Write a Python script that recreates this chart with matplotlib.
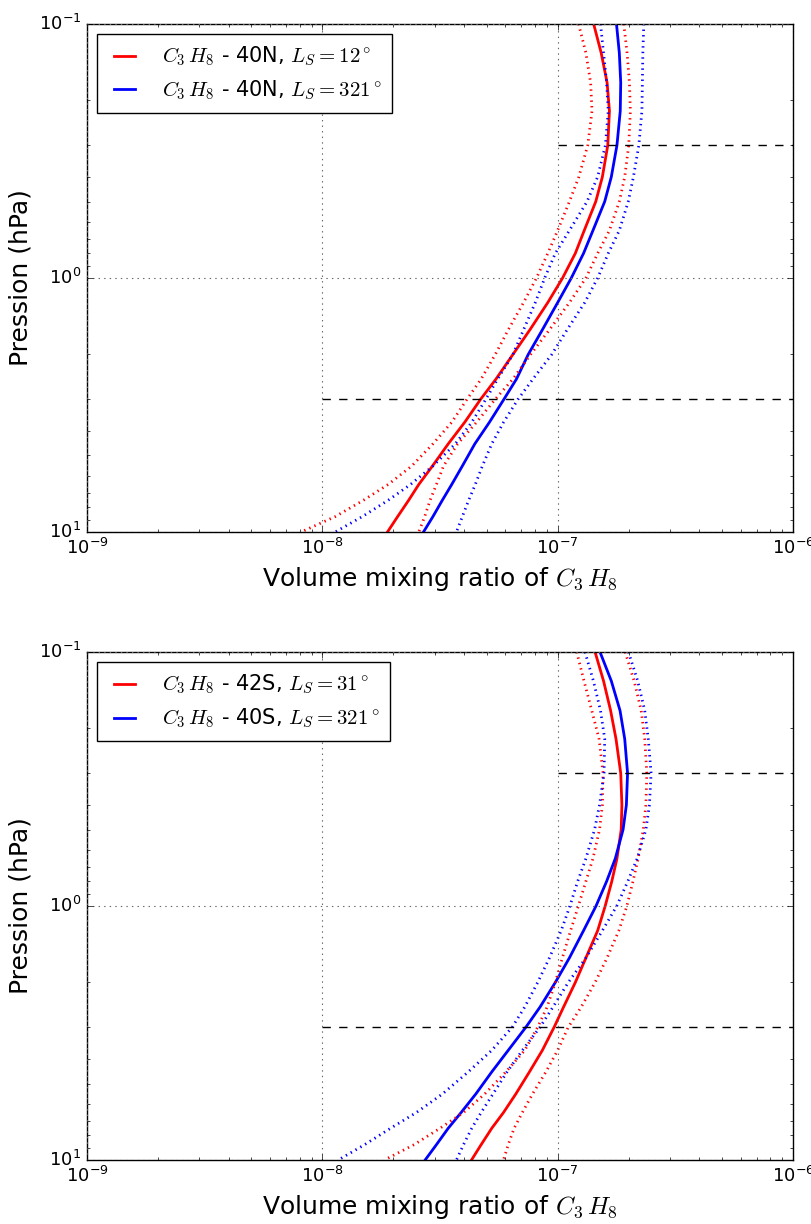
import numpy as np
import matplotlib
matplotlib.use('Agg')
import matplotlib.pyplot as plt

plt.style.use('classic')
plt.rcParams['mathtext.fontset'] = 'cm'
plt.rcParams['font.family'] = 'DejaVu Sans'

# pressure levels (hPa)
p = [0.1, 0.13, 0.17, 0.22, 0.3, 0.4, 0.5, 0.65, 0.8, 1.0, 1.25, 1.6,
     2.0, 2.5, 3.0, 3.7, 4.5, 5.5, 6.5, 7.5, 8.7, 10.0]

# log10 of the volume mixing ratio
# top panel: 40N
n_red = [-6.847, -6.815, -6.790, -6.780, -6.787, -6.810, -6.838, -6.887, -6.925, -6.979, -7.042,
         -7.118, -7.19, -7.262, -7.327, -7.395, -7.465, -7.532, -7.59, -7.633, -7.68, -7.723]
n_red_lo = [-6.911, -6.88, -6.86, -6.854, -6.872, -6.91, -6.95, -7.0, -7.042, -7.09, -7.145,
            -7.21, -7.265, -7.325, -7.385, -7.45, -7.53, -7.62, -7.72, -7.825, -7.945, -8.09]
n_red_hi = [-6.719, -6.705, -6.695, -6.691, -6.698, -6.715, -6.738, -6.78, -6.83, -6.88, -6.95,
            -7.035, -7.115, -7.19, -7.265, -7.345, -7.425, -7.485, -7.515, -7.542, -7.565, -7.59]
n_blue = [-6.75, -6.738, -6.732, -6.734, -6.748, -6.772, -6.8, -6.85, -6.89, -6.942, -7.0,
          -7.065, -7.125, -7.175, -7.228, -7.29, -7.352, -7.405, -7.45, -7.49, -7.53, -7.57]
n_blue_lo = [-6.818, -6.805, -6.792, -6.785, -6.797, -6.83, -6.875, -6.95, -7.01, -7.055, -7.095,
             -7.145, -7.19, -7.255, -7.305, -7.365, -7.435, -7.53, -7.625, -7.72, -7.83, -7.945]
n_blue_hi = [-6.634, -6.638, -6.64, -6.642, -6.655, -6.678, -6.7, -6.738, -6.785, -6.83, -6.885,
             -6.96, -7.025, -7.105, -7.168, -7.23, -7.28, -7.32, -7.35, -7.378, -7.405, -7.43]

# bottom panel: 42S / 40S
s_red = [-6.841, -6.805, -6.775, -6.752, -6.732, -6.727, -6.73, -6.748, -6.77, -6.798, -6.83,
         -6.88, -6.925, -6.975, -7.015, -7.065, -7.12, -7.178, -7.23, -7.28, -7.325, -7.366]
s_red_lo = [-6.919, -6.888, -6.855, -6.824, -6.807, -6.81, -6.822, -6.85, -6.88, -6.912, -6.945,
            -6.98, -7.01, -7.045, -7.085, -7.14, -7.22, -7.31, -7.4, -7.5, -7.61, -7.736]
s_red_hi = [-6.713, -6.675, -6.645, -6.63, -6.621, -6.625, -6.636, -6.658, -6.68, -6.706, -6.74,
            -6.79, -6.841, -6.9, -6.955, -7.0, -7.05, -7.107, -7.15, -7.185, -7.21, -7.23]
s_blue = [-6.82, -6.772, -6.735, -6.715, -6.703, -6.708, -6.722, -6.755, -6.792, -6.837, -6.89,
          -6.95, -7.01, -7.075, -7.135, -7.21, -7.28, -7.348, -7.41, -7.465, -7.515, -7.563]
s_blue_lo = [-6.884, -6.848, -6.818, -6.8, -6.803, -6.822, -6.843, -6.88, -6.915, -6.948, -6.985,
             -7.035, -7.085, -7.14, -7.193, -7.28, -7.38, -7.49, -7.6, -7.71, -7.82, -7.932]
s_blue_hi = [-6.699, -6.66, -6.63, -6.615, -6.603, -6.61, -6.625, -6.662, -6.702, -6.749, -6.81,
             -6.88, -6.955, -7.02, -7.075, -7.15, -7.215, -7.275, -7.325, -7.365, -7.4, -7.43]

# dashed reference levels and where they start
dash_p = [0.3, 3.0]
dash_x0 = [1e-7, 1e-8]

top_labels = [r'$C_3\,H_8$ - 40N, $L_S=12^\circ$', r'$C_3\,H_8$ - 40N, $L_S=321^\circ$']
bot_labels = [r'$C_3\,H_8$ - 42S, $L_S=31^\circ$', r'$C_3\,H_8$ - 40S, $L_S=321^\circ$']

fig = plt.figure(figsize=(8.12, 12.24), dpi=100, facecolor='w')
ax1 = fig.add_axes([0.1071, 0.5654, 0.8695, 0.4150])
ax2 = fig.add_axes([0.1071, 0.0523, 0.8695, 0.4150])

panels = [
    (ax1, n_red, n_red_lo, n_red_hi, n_blue, n_blue_lo, n_blue_hi, top_labels),
    (ax2, s_red, s_red_lo, s_red_hi, s_blue, s_blue_lo, s_blue_hi, bot_labels),
]

for ax, r, rlo, rhi, b, blo, bhi, labels in panels:
    ax.plot(10**np.array(r), p, 'r-', lw=2, label=labels[0])
    ax.plot(10**np.array(b), p, 'b-', lw=2, label=labels[1])
    ax.plot(10**np.array(rlo), p, 'r:', lw=2)
    ax.plot(10**np.array(rhi), p, 'r:', lw=2)
    ax.plot(10**np.array(blo), p, 'b:', lw=2)
    ax.plot(10**np.array(bhi), p, 'b:', lw=2)
    for yp, x0 in zip(dash_p, dash_x0):
        ax.plot([x0, 1e-6], [yp, yp], 'k--', lw=1)
    ax.set_xscale('log')
    ax.set_yscale('log')
    ax.set_xlim(1e-9, 1e-6)
    ax.set_ylim(10, 0.1)
    ax.grid(True, which='major', color='0.4', linestyle=':', linewidth=0.8)
    ax.tick_params(labelsize=13)
    ax.set_ylabel('Pression (hPa)', fontsize=18)
    ax.yaxis.set_label_coords(-0.077, 0.5)
    ax.set_xlabel(r'Volume mixing ratio of $C_3\,H_8$', fontsize=18)
    leg = ax.legend(loc='upper left', fontsize=15, numpoints=2, handlelength=1.6,
                    handletextpad=1.0, labelspacing=0.5, borderpad=0.5)
    leg.get_frame().set_edgecolor('k')

fig.savefig('out.png', dpi=100, facecolor='w')
